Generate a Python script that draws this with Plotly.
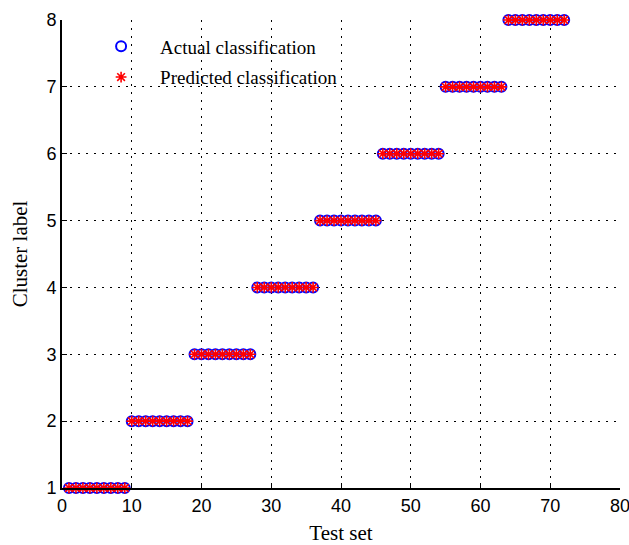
import plotly.graph_objects as go

test_index = list(range(1, 73))
actual_label = [1]*9 + [2]*9 + [3]*9 + [4]*9 + [5]*9 + [6]*9 + [7]*9 + [8]*9
predicted_label = [1]*9 + [2]*9 + [3]*9 + [4]*9 + [5]*9 + [6]*9 + [7]*9 + [8]*9
x_ticks = [0, 10, 20, 30, 40, 50, 60, 70, 80]
y_ticks = [1, 2, 3, 4, 5, 6, 7, 8]

fig = go.Figure()
fig.add_trace(go.Scatter(
    x=test_index, y=actual_label, mode="markers", name="Actual classification",
    legendgroup="a", cliponaxis=False,
    marker=dict(symbol="circle-open", size=10, color="#0000ff", line=dict(width=2, color="#0000ff")),
))
fig.add_trace(go.Scatter(
    x=test_index, y=predicted_label, mode="markers", name="Predicted classification",
    legendgroup="p", cliponaxis=False,
    marker=dict(symbol="asterisk-open", size=9, color="#ff0000", line=dict(width=1.6, color="#ff0000")),
))

serif = "Liberation Serif, Times New Roman, serif"
axis_common = dict(
    showline=True, linecolor="black", linewidth=2,
    ticks="inside", ticklen=5, tickcolor="black", tickwidth=1,
    showgrid=True, gridcolor="black", gridwidth=1, griddash="2px,6px",
    zeroline=False, ticklabeloverflow="allow", automargin=False,
    tickfont=dict(family="Liberation Sans, Arial, sans-serif", size=18, color="black"),
)

fig.update_xaxes(range=[0, 80.001], tickvals=x_ticks, ticktext=[str(v) for v in x_ticks],
                 title=dict(text="Test set", font=dict(family=serif, size=21, color="black"), standoff=14),
                 **axis_common)
fig.update_yaxes(range=[1, 8.0001], tickvals=y_ticks, ticktext=[str(v) for v in y_ticks],
                 title=dict(text="Cluster label", font=dict(family=serif, size=21, color="black"), standoff=13),
                 **axis_common)

fig.update_layout(
    width=629, height=545,
    margin=dict(l=62, r=9, t=20, b=57),
    paper_bgcolor="white", plot_bgcolor="white",
    showlegend=True,
    legend=dict(
        x=0.036, y=0.984, xanchor="left", yanchor="top",
        bgcolor="rgba(255,255,255,0)", borderwidth=0,
        font=dict(family=serif, size=19, color="black"),
        traceorder="grouped", tracegroupgap=3, itemwidth=68,
    ),
)

fig.write_html("out.html")
